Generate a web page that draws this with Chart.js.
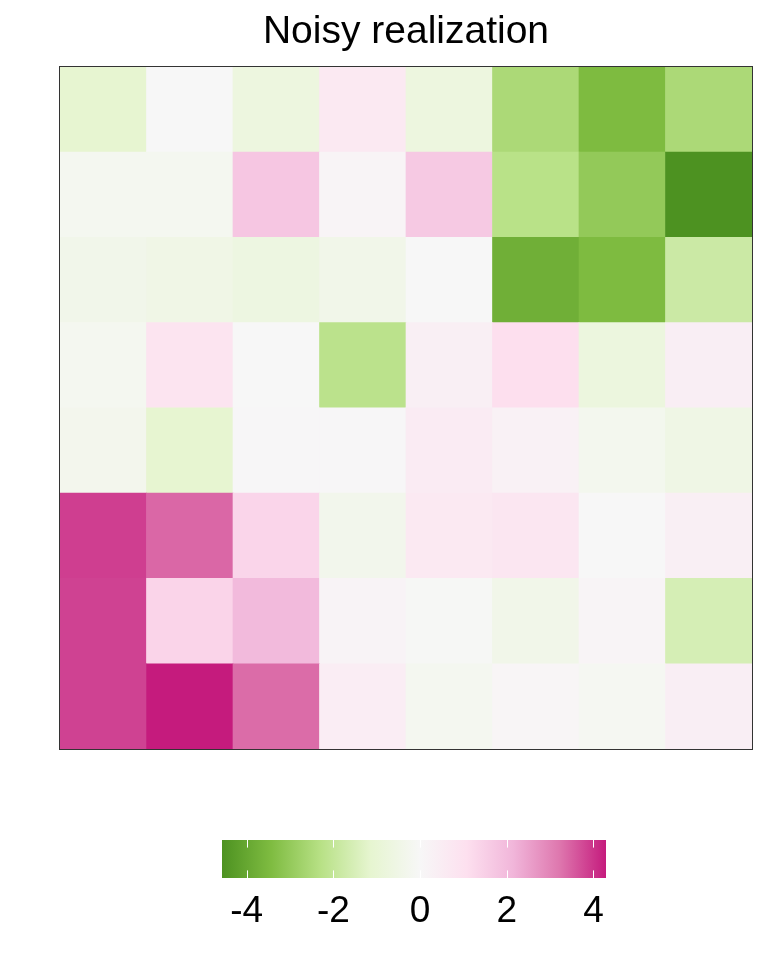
<!DOCTYPE html>
<html>
<head>
<meta charset="utf-8">
<script src="https://cdn.jsdelivr.net/npm/chart.js@4.4.1/dist/chart.umd.min.js"></script>
<style>
  html, body { margin: 0; padding: 0; background: #ffffff; }
  #wrap { position: relative; width: 768px; height: 960px; }
  #c1 { position: absolute; left: 0; top: 0; }
  #c2 { position: absolute; left: 0; top: 800px; }
</style>
</head>
<body>
<div id="wrap">
  <canvas id="c1" width="768" height="760"></canvas>
  <canvas id="c2" width="768" height="160"></canvas>
</div>
<script>
// ---- data (rows listed top to bottom, columns left to right) ----
const titleText = "Noisy realization";
const colLabels = ["1", "2", "3", "4", "5", "6", "7", "8"];
const rowLabels = ["1", "2", "3", "4", "5", "6", "7", "8"];
const row1 = [-1.10, 0.00, -0.70, 0.64, -0.70, -2.53, -3.45, -2.53];
const row2 = [-0.20, -0.20, 1.74, 0.15, 1.66, -2.25, -3.03, -4.57];
const row3 = [-0.38, -0.50, -0.64, -0.40, 0.00, -3.77, -3.45, -1.81];
const row4 = [-0.20, 0.89, 0.00, -2.20, 0.37, 1.10, -0.72, 0.40];
const row5 = [-0.30, -1.10, 0.05, 0.05, 0.56, 0.30, -0.25, -0.53];
const row6 = [3.88, 3.40, 1.35, -0.32, 0.65, 0.80, 0.00, 0.35];
const row7 = [3.84, 1.38, 2.04, 0.18, -0.05, -0.40, 0.15, -1.56];
const row8 = [3.84, 4.29, 3.35, 0.45, -0.20, 0.10, -0.15, 0.40];
const scaleMin = -4.57;
const scaleMax = 4.29;
const legendTicks = [-4, -2, 0, 2, 4];

const rowsTopToBottom = [row1, row2, row3, row4, row5, row6, row7, row8];

// ---- PiYG colour scale, white at 0 ----
const greenStops = ["#f7f7f7", "#e6f5d0", "#b8e186", "#7fbc41", "#4d9221"];
const pinkStops  = ["#f7f7f7", "#fde0ef", "#f1b6da", "#de77ae", "#c51b7d"];
function hexRgb(h) { return [parseInt(h.slice(1,3),16), parseInt(h.slice(3,5),16), parseInt(h.slice(5,7),16)]; }
function colourFor(v) {
  const stops = v < 0 ? greenStops : pinkStops;
  let f = v < 0 ? v / scaleMin : v / scaleMax;
  f = Math.max(0, Math.min(1, f)) * (stops.length - 1);
  const i = Math.min(Math.floor(f), stops.length - 2);
  const t = f - i;
  const a = hexRgb(stops[i]), b = hexRgb(stops[i + 1]);
  const c = a.map((x, k) => Math.round(x + (b[k] - x) * t));
  return `rgb(${c[0]},${c[1]},${c[2]})`;
}

Chart.defaults.font.family = "'Liberation Sans', Arial, Helvetica, sans-serif";
Chart.defaults.color = "#000000";

// ---- heatmap: stacked unit bars, bottom row first ----
const datasets = rowsTopToBottom.slice().reverse().map((row, i) => ({
  label: rowLabels[rowLabels.length - 1 - i],
  data: row.map(() => 1),
  backgroundColor: row.map(v => colourFor(v)),
  borderWidth: 0,
  barPercentage: 1,
  categoryPercentage: 1,
  stack: "s"
}));

const borderPlugin = {
  id: "panelBorder",
  afterDatasetsDraw(chart) {
    const a = chart.chartArea, ctx = chart.ctx;
    ctx.save();
    ctx.strokeStyle = "#333333";
    ctx.lineWidth = 1;
    ctx.strokeRect(Math.round(a.left) - 0.5, Math.round(a.top) - 0.5,
                   Math.round(a.right - a.left) + 1, Math.round(a.bottom - a.top) + 1);
    ctx.restore();
  }
};

new Chart(document.getElementById("c1"), {
  type: "bar",
  data: { labels: colLabels, datasets },
  options: {
    responsive: false,
    animation: false,
    layout: { padding: { left: 60, right: 16, top: 9, bottom: 11 } },
    plugins: {
      legend: { display: false },
      tooltip: { enabled: false },
      title: {
        display: true,
        text: titleText,
        font: { size: 39, weight: "normal", lineHeight: 1.2 },
        color: "#000000",
        padding: { top: 0, bottom: 11 }
      }
    },
    scales: {
      x: { display: false, stacked: true, offset: true, grid: { display: false } },
      y: { display: false, stacked: true, min: 0, max: rowLabels.length, grid: { display: false } }
    }
  },
  plugins: [borderPlugin]
});

// ---- colour bar legend ----
function gradientFor(chart) {
  const a = chart.chartArea;
  if (!a) return "#f7f7f7";
  const g = chart.ctx.createLinearGradient(a.left, 0, a.right, 0);
  const span = scaleMax - scaleMin;
  greenStops.forEach((c, k) => {
    const v = scaleMin * k / (greenStops.length - 1);
    g.addColorStop((v - scaleMin) / span, c);
  });
  pinkStops.forEach((c, k) => {
    const v = scaleMax * k / (pinkStops.length - 1);
    g.addColorStop((v - scaleMin) / span, c);
  });
  return g;
}

const tickMarkPlugin = {
  id: "barTicks",
  afterDatasetsDraw(chart) {
    const a = chart.chartArea, ctx = chart.ctx, sx = chart.scales.x;
    const len = (a.bottom - a.top) / 5;
    ctx.save();
    ctx.strokeStyle = "#ffffff";
    ctx.lineWidth = 1;
    legendTicks.forEach(v => {
      const x = Math.round(sx.getPixelForValue(v)) + 0.5;
      ctx.beginPath();
      ctx.moveTo(x, a.top); ctx.lineTo(x, a.top + len);
      ctx.moveTo(x, a.bottom - len); ctx.lineTo(x, a.bottom);
      ctx.stroke();
    });
    ctx.restore();
  }
};

new Chart(document.getElementById("c2"), {
  type: "bar",
  data: {
    labels: [""],
    datasets: [{
      data: [[scaleMin, scaleMax]],
      backgroundColor: ctx => gradientFor(ctx.chart),
      borderWidth: 0,
      barPercentage: 1,
      categoryPercentage: 1
    }]
  },
  options: {
    indexAxis: "y",
    responsive: false,
    animation: false,
    layout: { padding: { left: 222, right: 162, top: 40, bottom: 12 } },
    plugins: { legend: { display: false }, tooltip: { enabled: false } },
    scales: {
      x: {
        type: "linear",
        min: scaleMin,
        max: scaleMax,
        clip: false,
        border: { display: false },
        grid: { display: false, drawTicks: false },
        afterBuildTicks(scale) { scale.ticks = legendTicks.map(v => ({ value: v })); },
        afterFit(scale) { scale.height = 70; },
        ticks: {
          padding: 12,
          maxRotation: 0,
          autoSkip: false,
          color: "#000000",
          font: { size: 37 },
          callback: v => String(v)
        }
      },
      y: { display: false, grid: { display: false } }
    }
  },
  plugins: [tickMarkPlugin]
});
</script>
</body>
</html>
